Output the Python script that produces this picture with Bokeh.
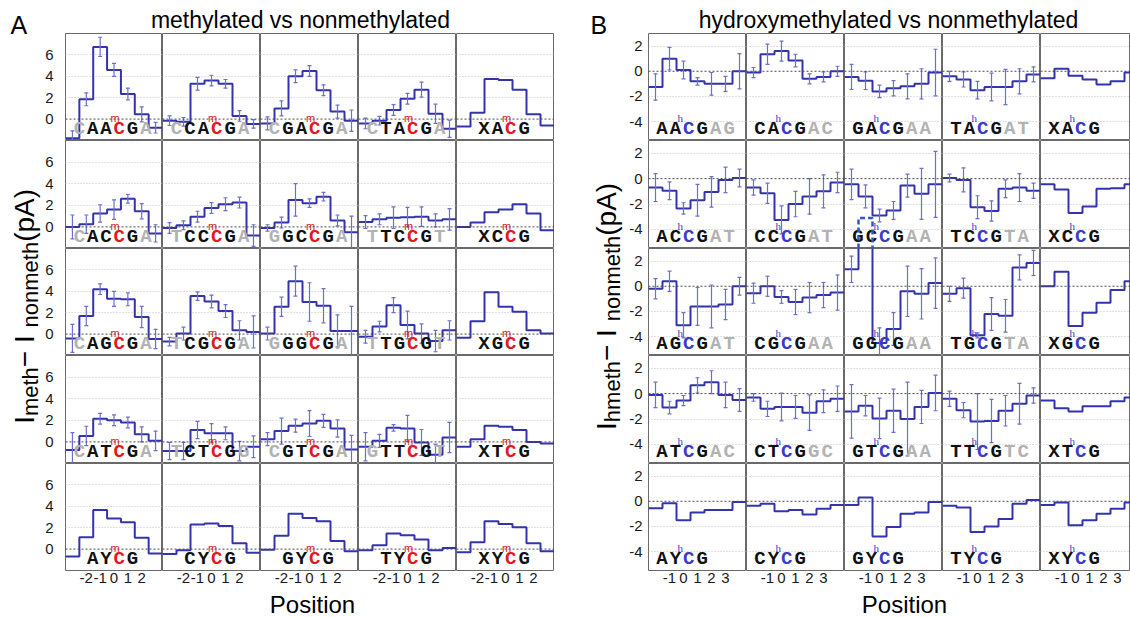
import math
from bokeh.plotting import figure
from bokeh.layouts import row, column
from bokeh.models import Range1d, FixedTicker, Span, ColumnDataSource
from bokeh.core.properties import value
from bokeh.embed import file_html
from bokeh.resources import INLINE

nan = float("nan")

# ---------------- data ----------------
col_bases = ["A", "C", "G", "T", "X"]      # base at position -2 (columns)
row_bases = ["A", "C", "G", "T", "Y"]      # base at position -1 (rows)

meth_positions = [-3, -2, -1, 0, 1, 2, 3]
meth_xticks = [-2, -1, 0, 1, 2]
meth_yticks = [0, 2, 4, 6]

hmeth_positions = [-2, -1, 0, 1, 2, 3, 4]
hmeth_xticks = [-1, 0, 1, 2, 3]
hmeth_yticks = [-4, -2, 0, 2]

# methylated vs nonmethylated: mean current differences (pA)
meth_mean_A = [[-1.8, 1.85, 6.75, 4.6, 2.35, 0.45, -0.8],
               [-0.15, -0.25, 3.3, 3.6, 3.3, 0.3, -0.45],
               [-0.4, 1.0, 4.0, 4.5, 2.7, 0.7, -0.15],
               [-0.4, -0.15, 0.85, 1.9, 2.75, 0.5, -0.9],
               [-0.7, 0.6, 3.75, 3.65, 2.75, 0.45, -0.6]]
meth_mean_C = [[0.0, 0.25, 1.25, 1.6, 2.6, 1.45, -0.6],
               [-0.1, 0.15, 0.95, 1.75, 2.1, 2.25, -0.8],
               [-0.1, 0.4, 2.5, 2.2, 2.8, 0.6, -0.5],
               [0.45, 0.7, 0.85, 0.9, 0.95, 0.6, 0.7],
               [0.0, 0.4, 1.35, 1.6, 2.1, 1.25, -0.3]]
meth_mean_G = [[-0.4, 1.7, 4.2, 3.3, 3.25, 1.6, -0.45],
               [-0.7, 0.05, 3.55, 3.05, 2.15, 0.35, 0.2],
               [0.05, 2.55, 4.95, 3.0, 2.65, 0.3, 0.3],
               [-0.25, 0.7, 2.7, 0.85, 0.05, -0.65, 0.35],
               [-0.35, 1.2, 3.9, 2.55, 2.1, 0.35, 0.05]]
meth_mean_T = [[-0.75, 0.55, 2.15, 2.0, 1.8, 0.7, 0.1],
               [-0.85, -0.85, 1.1, 0.8, 0.8, -0.85, -0.45],
               [0.25, 1.0, 1.5, 1.7, 1.95, 1.25, -0.7],
               [-0.45, 0.1, 1.3, 1.25, -0.05, -1.2, 0.4],
               [-0.45, 0.25, 1.5, 1.4, 1.1, 0.0, -0.15]]
meth_mean_Y = [[-0.7, 1.1, 3.65, 2.85, 2.5, 1.05, -0.4],
               [-0.45, -0.1, 2.3, 2.4, 2.15, 0.55, -0.35],
               [-0.05, 1.25, 3.3, 2.9, 2.6, 0.75, -0.2],
               [-0.1, 0.35, 1.45, 1.3, 0.9, -0.1, 0.1],
               [-0.3, 0.65, 2.6, 2.35, 2.05, 0.55, -0.2]]

meth_err_A = [[0.7, 0.6, 0.9, 0.6, 0.55, 0.7, 0.5],
              [0.45, 0.4, 0.6, 0.5, 0.4, 0.5, 0.4],
              [0.6, 0.7, 0.6, 0.5, 0.5, 0.6, 1.0],
              [0.5, 0.4, 0.5, 0.5, 0.7, 0.9, 0.8],
              None]
meth_err_C = [[1.1, 0.85, 0.8, 0.9, 0.4, 0.7, 0.8],
              [0.5, 0.4, 0.5, 0.5, 0.6, 0.5, 1.0],
              [0.3, 0.5, 1.5, 0.4, 0.4, 0.5, 1.5],
              [0.6, 0.5, 1.0, 0.9, 0.9, 0.6, 1.0],
              None]
meth_err_G = [[1.3, 0.9, 0.5, 0.7, 0.6, 1.0, 0.9],
              [0.4, 0.6, 0.4, 0.6, 0.6, 0.9, 1.5],
              [0.6, 0.9, 1.4, 1.8, 1.6, 1.5, 2.3],
              [0.6, 0.5, 0.7, 1.3, 0.9, 1.0, 0.9],
              None]
meth_err_T = [[1.6, 0.9, 0.5, 0.5, 0.5, 0.7, 0.9],
              [0.8, 0.8, 0.8, 0.9, 0.6, 0.9, 1.0],
              [0.6, 1.2, 0.6, 1.2, 0.6, 0.8, 1.3],
              [1.3, 0.6, 0.3, 1.2, 1.2, 1.0, 1.4],
              None]
meth_err_Y = [None, None, None, None, None]

# hydroxymethylated vs nonmethylated
hmeth_mean_A = [[-1.25, 1.0, 0.1, -0.8, -1.0, -1.0, 0.0],
                [-0.1, 1.35, 1.6, 0.85, -0.6, -0.45, 0.0],
                [-0.45, -0.75, -1.6, -1.35, -1.2, -1.0, -0.1],
                [-0.4, -0.65, -1.5, -1.25, -1.25, -0.8, -0.25],
                [-0.55, 0.2, -0.35, -0.65, -1.05, -0.8, -0.1]]
hmeth_mean_C = [[-0.7, -0.95, -2.35, -1.7, -1.05, -0.1, 0.05],
                [-0.7, -1.15, -3.25, -2.0, -1.4, -1.0, -0.3],
                [-0.45, -1.4, -2.9, -2.5, -0.55, -1.2, -0.45],
                [0.05, -0.1, -2.25, -2.55, -0.8, -0.7, -0.95],
                [-0.45, -0.85, -2.7, -2.2, -0.8, -0.75, -0.45]]
hmeth_mean_G = [[-0.2, 0.4, -3.1, -1.6, -1.6, -1.45, 0.0],
                [-0.55, 0.0, -0.85, -1.25, -0.9, -0.7, -0.5],
                [1.35, 5.4, -4.5, -3.4, -0.4, -0.6, 0.25],
                [-0.6, -0.15, -3.9, -2.2, -2.35, 1.5, 1.85],
                [0.0, 1.15, -3.15, -2.1, -1.3, -0.3, 0.4]]
hmeth_mean_T = [[-0.1, -1.1, -0.55, 0.65, 0.9, -0.1, -0.5],
                [-0.3, -1.2, -1.05, -1.05, -1.5, -0.6, -0.4],
                [-1.4, -0.95, -1.95, -1.35, -2.0, -1.05, 0.05],
                [-0.4, -1.3, -2.2, -2.15, -1.35, -0.8, -0.15],
                [-0.55, -1.15, -1.4, -1.0, -1.0, -0.6, -0.3]]
hmeth_mean_Y = [[-0.55, -0.15, -1.5, -0.9, -0.7, -0.7, -0.05],
                [-0.35, -0.2, -0.8, -0.7, -1.05, -0.6, -0.3],
                [-0.3, 0.3, -2.8, -2.05, -1.0, -0.9, -0.05],
                [-0.35, -0.5, -2.45, -2.0, -1.4, -0.2, 0.1],
                [-0.3, -0.1, -1.9, -1.5, -1.0, -0.6, -0.1]]

hmeth_err_A = [[1.05, 0.9, 0.7, 0.3, 0.9, 0.6, 1.4],
               [0.4, 0.8, 0.8, 0.5, 0.4, 0.4, 0.4],
               [1.0, 0.7, 0.5, 0.6, 1.0, 1.2, 1.85],
               [0.4, 0.6, 0.7, 1.1, 1.4, 1.0, 0.6],
               None]
hmeth_err_C = [[1.1, 0.7, 0.45, 1.25, 1.2, 1.0, 0.7],
               [0.6, 0.8, 1.1, 1.0, 1.4, 1.3, 0.8],
               [1.2, 0.9, 0.5, 0.7, 0.9, 2.0, 2.6],
               [0.3, 0.95, 0.9, 0.8, 0.7, 1.1, 0.6],
               None]
hmeth_err_G = [[0.8, 0.8, 1.0, 1.5, 1.7, 1.2, 0.7],
               [0.8, 0.8, 0.5, 1.0, 1.2, 1.0, 1.4],
               [1.05, nan, 1.2, 1.3, 2.0, 2.0, 2.0],
               [0.6, 0.8, 0.2, 1.3, 1.3, 1.0, 1.0],
               None]
hmeth_err_T = [[1.0, 0.5, 0.4, 0.6, 0.9, 1.0, 0.9],
               [0.3, 0.6, 1.1, 0.9, 1.4, 0.9, 1.0],
               [2.1, 0.8, 1.6, 1.7, 2.9, 1.3, 1.4],
               [0.6, 0.6, 2.2, 1.7, 1.2, 1.6, 0.6],
               None]
hmeth_err_Y = [None, None, None, None, None]

meth_prefix = [["C", "C", "C", "C", ""], ["C", "T", "G", "T", ""], ["C", "T", "G", "T", ""],
               ["C", "T", "C", "G", ""], ["", "", "", "", ""]]
meth_suffix = [["A", "A", "A", "A", ""], ["A", "A", "A", "T", ""], ["A", "A", "A", "T", ""],
               ["A", "G", "A", "T", ""], ["", "", "", "", ""]]
hmeth_prefix = [["", "", "", "", ""]] * 5
hmeth_suffix = [["AG", "AC", "AA", "AT", ""], ["AT", "AT", "AA", "TA", ""], ["AT", "AA", "AA", "TA", ""],
                ["AC", "GC", "AA", "TC", ""], ["", "", "", "", ""]]

# ---------------- style ----------------
STEP = "#3333b0"
ERR = "#6e6ed2"
RED = "#e3191f"
BLUEC = "#3b3bc6"
GREY = "#b2b2b2"
FRAME_W = 98
ROW_H = [107, 108, 107, 108, 107]
BOTTOM_AX = 19
TITLE_H = 33
XLAB_H = 617 - TITLE_H - sum(ROW_H) - BOTTOM_AX
SANS = "Liberation Sans"
MONO = "Liberation Mono"
KSHIFT = 0.3   # compensates the renderer's baseline drop (fraction of font size)
SEQ_PX = 19    # font size of the sequence letters
SEQ_LIFT = 12  # anchor of the sequence letters, pixels above the frame bottom

panels = {
    "meth": dict(positions=meth_positions, xticks=meth_xticks, yticks=meth_yticks, yr=(-2.0, 8.0),
                 means=[meth_mean_A, meth_mean_C, meth_mean_G, meth_mean_T, meth_mean_Y],
                 errs=[meth_err_A, meth_err_C, meth_err_G, meth_err_T, meth_err_Y],
                 prefix=meth_prefix, suffix=meth_suffix, mark="m", mark_color=RED,
                 mark_font="Liberation Sans", mark_dx=-0.3, mark_px=10.5,
                 left_ax=22, last_w=98, standoff=12),
    "hmeth": dict(positions=hmeth_positions, xticks=hmeth_xticks, yticks=hmeth_yticks, yr=(-5.5, 3.0),
                  means=[hmeth_mean_A, hmeth_mean_C, hmeth_mean_G, hmeth_mean_T, hmeth_mean_Y],
                  errs=[hmeth_err_A, hmeth_err_C, hmeth_err_G, hmeth_err_T, hmeth_err_Y],
                  prefix=hmeth_prefix, suffix=hmeth_suffix, mark="h", mark_color=BLUEC,
                  mark_font="Liberation Serif", mark_dx=-0.62, mark_px=11,
                  left_ax=22, last_w=90, standoff=6),
}
C_X = 0.38
SP = 0.96


def style_axis(ax, ticks, standoff):
    ax.ticker = FixedTicker(ticks=ticks)
    ax.major_label_overrides = {t: str(t) for t in ticks}
    ax.major_tick_out = 0
    ax.major_tick_in = 0
    ax.minor_tick_out = 0
    ax.minor_tick_in = 0
    ax.axis_line_color = None
    ax.major_label_standoff = standoff
    ax.major_label_text_font = SANS
    ax.major_label_text_font_size = "15px"
    ax.major_label_text_color = "#1a1a1a"


def make_cell(P, r, c):
    fw = P["last_w"] if c == 4 else FRAME_W
    w = fw + (P["left_ax"] if c == 0 else 0)
    h = ROW_H[r] + (BOTTOM_AX if r == 4 else 0)
    pos = P["positions"]
    x0 = pos[0] - 0.5
    x1 = x0 + len(pos) * fw / FRAME_W
    lo, hi = P["yr"]
    upp = (hi - lo) / ROW_H[r]          # data units per pixel
    p = figure(width=w, height=h, x_range=Range1d(x0, x1), y_range=Range1d(lo, hi),
               output_backend="svg", toolbar_location=None,
               x_axis_location="below" if r == 4 else None,
               y_axis_location="left" if c == 0 else None,
               min_border=0, min_border_left=P["left_ax"] if c == 0 else 0,
               min_border_bottom=BOTTOM_AX if r == 4 else 0,
               min_border_top=0, min_border_right=0)
    p.outline_line_color = "#6a6a6a"
    p.outline_line_width = 1
    p.background_fill_color = "white"
    p.border_fill_color = "white"
    p.xgrid.visible = False
    p.ygrid.ticker = FixedTicker(ticks=[t for t in P["yticks"] if t != 0])
    p.ygrid.grid_line_color = "#c2c2c2"
    p.ygrid.grid_line_dash = "1 2"
    p.add_layout(Span(location=0, dimension="width", line_color="#4a4a4a",
                      line_dash="2 2", line_width=1))
    if c == 0:
        style_axis(p.yaxis[0], P["yticks"], P["standoff"])
    if r == 4:
        style_axis(p.xaxis[0], P["xticks"], 2)

    vals = P["means"][r][c]
    edges = [q - 0.5 for q in pos] + [pos[-1] + 0.5]
    p.step(edges, list(vals) + [vals[-1]], mode="after", line_color=STEP, line_width=2)

    errs = P["errs"][r][c]
    if errs is not None:
        xs, elo, ehi = [], [], []
        for q, v, e in zip(pos, vals, errs):
            if e == e:
                xs.append(q)
                elo.append(v - e)
                ehi.append(v + e)
        p.segment(x0=xs, y0=elo, x1=xs, y1=ehi, line_color=ERR, line_width=1.2)
        p.scatter(xs + xs, elo + ehi, marker="dash", size=4, line_color=ERR, line_width=1.2)

    # sequence label
    pre = P["prefix"][r][c]
    mid = col_bases[c] + row_bases[r]
    suf = P["suffix"][r][c]
    letters = list(pre) + list(mid) + ["C", "G"] + list(suf)
    colors = [GREY] * len(pre) + ["#111111"] * len(mid) + [P["mark_color"], "#111111"] + [GREY] * len(suf)
    kc = len(pre) + len(mid)
    lx = [C_X + (k - kc) * SP for k in range(len(letters))]
    base_y = lo + SEQ_LIFT * upp
    src = ColumnDataSource(dict(x=lx, y=[base_y] * len(letters), t=letters, col=colors))
    p.text(x="x", y="y", text="t", text_color="col", source=src, text_font=value(MONO),
           text_font_style="bold", text_font_size=f"{SEQ_PX}px", text_align="center",
           text_baseline="alphabetic")
    p.text(x=[C_X + P["mark_dx"]], y=[base_y + P["mark_px"] * upp], text=[P["mark"]],
           text_color=P["mark_color"], text_font=value(P["mark_font"]), text_font_size="11px",
           text_align="center", text_baseline="alphabetic")
    return p


def build_grid(P):
    cells = [[make_cell(P, r, c) for c in range(5)] for r in range(5)]
    # values above the axis limit continue (dashed) into the panel above
    lo, hi = P["yr"]
    span = hi - lo
    pos = P["positions"]
    for r in range(1, 5):
        for c in range(5):
            for k, v in enumerate(P["means"][r][c]):
                if v > hi:
                    e0, e1 = pos[k] - 0.5, pos[k] + 0.5
                    cells[r - 1][c].line([e0, e0, e1, e1], [lo, v - span, v - span, lo],
                                         line_color="#2f55c8", line_width=2.5, line_dash="5 3")
    return column(*[row(*rw) for rw in cells])


def blank(w, h):
    p = figure(width=w, height=h, x_range=Range1d(0, w), y_range=Range1d(0, h),
               output_backend="svg", toolbar_location=None, x_axis_location=None,
               y_axis_location=None, min_border=0)
    p.xgrid.visible = False
    p.ygrid.visible = False
    p.outline_line_color = None
    p.background_fill_color = "white"
    p.border_fill_color = "white"
    return p


def put(p, x, y, s, size, align="left", angle=0.0, color="black", font=SANS):
    # (x, y): intended baseline anchor, in pixels from the figure's bottom-left
    if angle:
        x = x - KSHIFT * size
    else:
        y = y + KSHIFT * size
    p.text(x=[x], y=[y], text=[s], text_font=value(font), text_font_size=f"{size}px",
           text_align=align, text_baseline="alphabetic", angle=angle, text_color=color)


CW = {"I": .278, "m": .833, "e": .556, "t": .278, "h": .556, " ": .278, "\u2212": .584,
      "n": .556, "o": .556, "(": .333, "p": .556, "A": .667, ")": .333}


def ylabel(p, sub1, xb, yc, F=28, f=22):
    pieces = [("I", F, False), (sub1, f, True), (" \u2212 I", F, False), ("nonmeth", f, True),
              (" (pA)", F, False)]
    lens = [sum(CW.get(ch, .556) for ch in s) * sz for s, sz, _ in pieces]
    y = yc - sum(lens) / 2
    for (s, sz, sub), L in zip(pieces, lens):
        put(p, xb + (5 if sub else 0), y, s, sz, angle=math.pi / 2)
        y += L


H = 617
LW_A = 554 - panels["meth"]["left_ax"] - 5 * FRAME_W
LW_B = 648 - 554 - panels["hmeth"]["left_ax"]

gridA = build_grid(panels["meth"])
gridB = build_grid(panels["hmeth"])

WA = panels["meth"]["left_ax"] + 5 * FRAME_W
WB = panels["hmeth"]["left_ax"] + 4 * FRAME_W + panels["hmeth"]["last_w"]

ylabA = blank(LW_A, H)
put(ylabA, 10, H - 31.5, "A", 25)
ylabel(ylabA, "meth", 32, H - 302)

ylabB = blank(LW_B, H)
put(ylabB, 36, H - 31.5, "B", 25)
ylabel(ylabB, "hmeth", 60, H - 302)

titleA = blank(WA, TITLE_H)
put(titleA, 300 - LW_A, 6.5, "methylated vs nonmethylated", 23, align="center")
titleB = blank(WB, TITLE_H)
put(titleB, 888 - 554 - LW_B, 6.5, "hydroxymethylated vs nonmethylated", 23, align="center")

xlabA = blank(WA, XLAB_H)
put(xlabA, 312 - LW_A, 6, "Position", 24, align="center")
xlabB = blank(WB, XLAB_H)
put(xlabB, 904 - 554 - LW_B, 6, "Position", 24, align="center")

layout = row(ylabA, column(titleA, gridA, xlabA), ylabB, column(titleB, gridB, xlabB))

open("out.html", "w").write(file_html(layout, INLINE))
